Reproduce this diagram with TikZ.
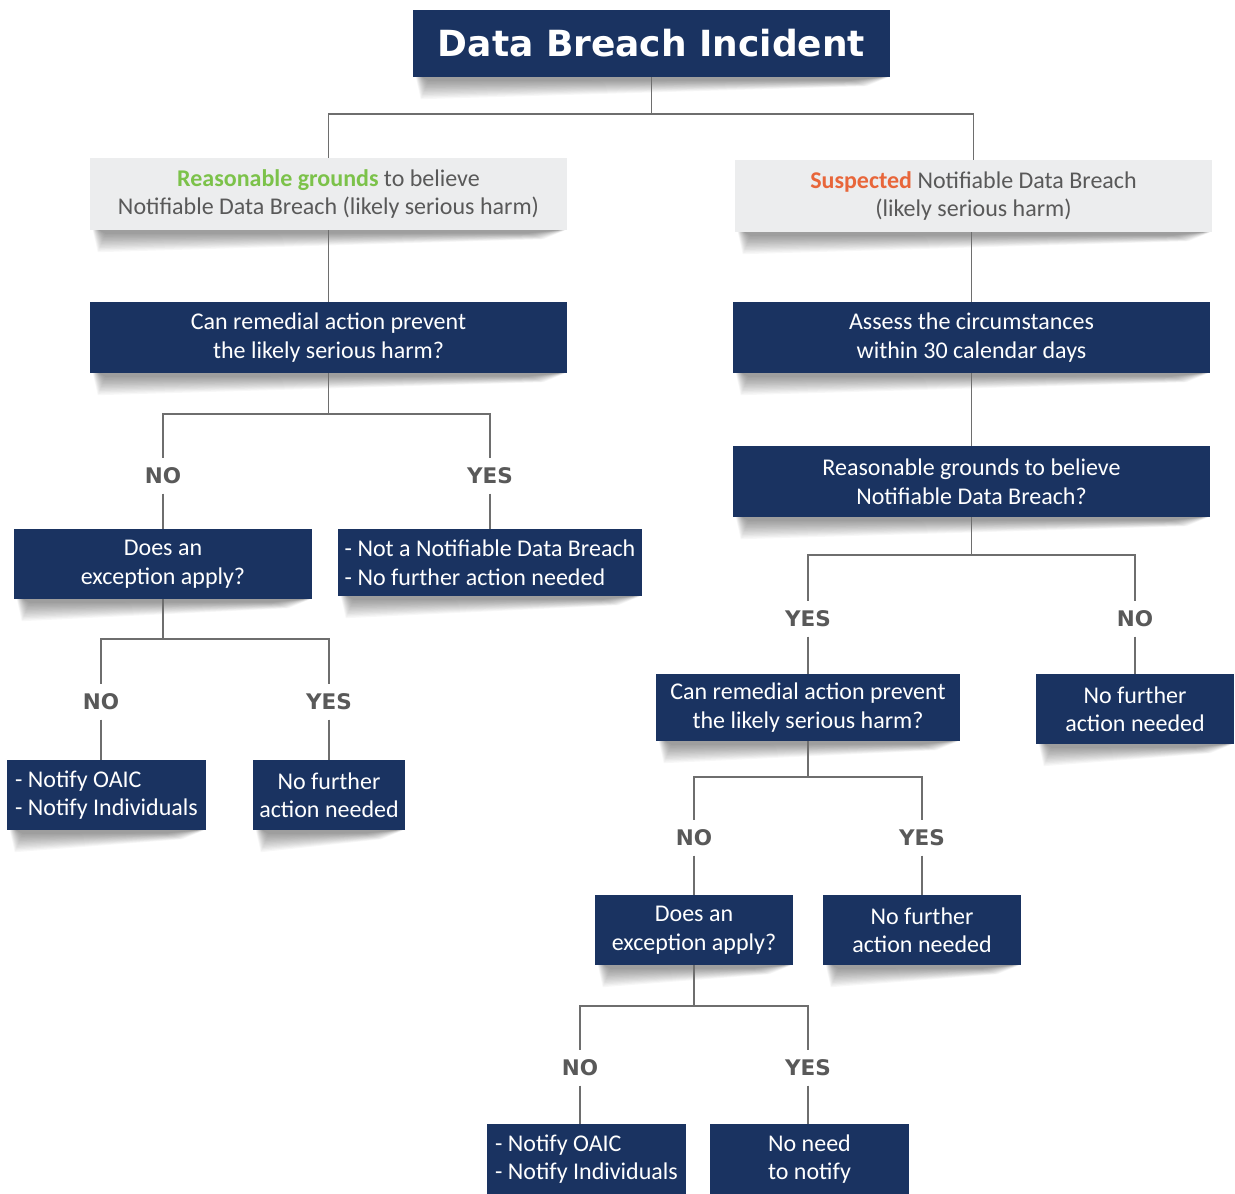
\documentclass[tikz,border=0pt]{standalone}
\usepackage{fontspec}
\setmainfont{Carlito}
\newfontfamily\lblfont{DejaVu Sans}
\definecolor{navy}{HTML}{1A3361}
\definecolor{grayfill}{HTML}{ECEDEE}
\definecolor{graytext}{HTML}{595959}
\definecolor{linegray}{HTML}{6E6E6E}
\definecolor{greentxt}{HTML}{7CC24A}
\definecolor{orangetxt}{HTML}{E8663A}
\tikzset{
  navybox/.style={fill=navy, text=white, inner sep=0pt, align=center, font=\fontsize{24}{28.5}\selectfont},
  graybox/.style={fill=grayfill, text=graytext, inner sep=0pt, align=center, font=\fontsize{24}{28.5}\selectfont},
  titlebox/.style={fill=navy, text=white, inner sep=0pt, text height=26pt, text depth=0pt, font=\lblfont\fontsize{36}{40}\selectfont\bfseries},
  lbl/.style={text=graytext, font=\lblfont\fontsize{21.5}{24}\selectfont\bfseries, text height=15.7pt, text depth=0pt, inner xsep=2pt, inner ysep=9.5pt},
  conn/.style={draw=linegray, line width=1.8pt}
}
\newcommand\bxshadow[1]{%
  \foreach \k in {0,...,13}{%
    \fill[black, opacity=0.03]
      ([xshift={(3+0.5*\k)*1pt}]#1.south west) --
      ([xshift={(8+0.6*\k)*1pt}, yshift={-(22-1.4*\k)*1pt}]#1.south west) --
      ([xshift={-(24+1.2*\k)*1pt}, yshift={-(9-0.45*\k)*1pt}]#1.south east) --
      ([xshift={-(2+0.5*\k)*1pt}]#1.south east) -- cycle;
  }%
}
\begin{document}
\begin{tikzpicture}[x=1pt,y=-1pt]
\useasboundingbox (0,0) rectangle (1235,1194);
\fill[white] (0,0) rectangle (1235,1194);
% nodes
\node[titlebox, minimum width=477pt, minimum height=67pt] (title) at (651.5,43.5) {Data Breach Incident};
\node[graybox, minimum width=477pt, minimum height=72pt] (lg) at (328.5,194) {\textcolor{greentxt}{\bfseries Reasonable grounds} to believe\\Notifiable Data Breach (likely serious harm)};
\node[graybox, minimum width=477pt, minimum height=72pt] (rg) at (973.5,196) {\textcolor{orangetxt}{\bfseries Suspected} Notifiable Data Breach\\(likely serious harm)};
\node[navybox, minimum width=477pt, minimum height=71pt] (lq1) at (328.5,337.5) {Can remedial action prevent\\the likely serious harm?};
\node[navybox, minimum width=477pt, minimum height=71pt] (ra1) at (971.5,337.5) {Assess the circumstances\\within 30 calendar days};
\node[navybox, minimum width=477pt, minimum height=71pt] (rq1) at (971.5,481.5) {Reasonable grounds to believe\\Notifiable Data Breach?};
% left branch
\node[lbl] (lno1) at (163,476) {NO};
\node[lbl] (lyes1) at (490,476) {YES};
\node[navybox, minimum width=298pt, minimum height=70pt] (lex) at (163,564) {Does an\\exception apply?};
\node[navybox, align=left, minimum width=304pt, minimum height=67pt] (lnot) at (490,562.5) {- Not a Notifiable Data Breach\\- No further action needed};
\node[lbl] (lno2) at (101,702) {NO};
\node[lbl] (lyes2) at (329,702) {YES};
\node[navybox, align=left, minimum width=199pt, minimum height=70pt] (lnotify) at (106.5,795) {- Notify OAIC\\- Notify Individuals};
\node[navybox, minimum width=152pt, minimum height=70pt] (lnofur) at (329,795) {No further\\action needed};
% right branch
\node[lbl] (ryes1) at (808,619) {YES};
\node[lbl] (rno1) at (1135,619) {NO};
\node[navybox, minimum width=304pt, minimum height=67pt] (rrem) at (808,707.5) {Can remedial action prevent\\the likely serious harm?};
\node[navybox, minimum width=198pt, minimum height=70pt] (rnofur1) at (1135,709) {No further\\action needed};
\node[lbl] (rno2) at (694,838) {NO};
\node[lbl] (ryes2) at (922,838) {YES};
\node[navybox, minimum width=198pt, minimum height=70pt] (rex) at (694,930) {Does an\\exception apply?};
\node[navybox, minimum width=198pt, minimum height=70pt] (rnofur2) at (922,930) {No further\\action needed};
\node[lbl] (rno3) at (580,1068) {NO};
\node[lbl] (ryes3) at (808,1068) {YES};
\node[navybox, align=left, minimum width=199pt, minimum height=70pt] (rnotify) at (586.5,1159) {- Notify OAIC\\- Notify Individuals};
\node[navybox, minimum width=199pt, minimum height=70pt] (rnoneed) at (809.5,1159) {No need\\to notify};
% shadows
\foreach \b in {title,lg,rg,lq1,ra1,rq1,lex,lnot,lnotify,lnofur,rrem,rnofur1,rex,rnofur2}{\bxshadow{\b}}
% connectors
\draw[conn] (title.south) -- ++(0,37) coordinate (tj);
\draw[conn] (tj) -| (lg.north);
\draw[conn] (tj) -| (rg.north);
\draw[conn] (lg.south) -- (lq1.north);
\draw[conn] (rg.south -| ra1.north) -- (ra1.north);
\draw[conn] (ra1.south) -- (rq1.north);
% left
\draw[conn] (lq1.south) -- ++(0,41) coordinate (lj1);
\draw[conn] (lj1) -| (lno1.north);
\draw[conn] (lj1) -| (lyes1.north);
\draw[conn] (lno1.south) -- (lex.north);
\draw[conn] (lyes1.south) -- (lnot.north);
\draw[conn] (lex.south) -- ++(0,40) coordinate (lj2);
\draw[conn] (lj2) -| (lno2.north);
\draw[conn] (lj2) -| (lyes2.north);
\draw[conn] (lno2.south) -- (lno2.south |- lnotify.north);
\draw[conn] (lyes2.south) -- (lnofur.north);
% right
\draw[conn] (rq1.south) -- ++(0,38) coordinate (rj1);
\draw[conn] (rj1) -| (ryes1.north);
\draw[conn] (rj1) -| (rno1.north);
\draw[conn] (ryes1.south) -- (rrem.north);
\draw[conn] (rno1.south) -- (rnofur1.north);
\draw[conn] (rrem.south) -- ++(0,36) coordinate (rj2);
\draw[conn] (rj2) -| (rno2.north);
\draw[conn] (rj2) -| (ryes2.north);
\draw[conn] (rno2.south) -- (rex.north);
\draw[conn] (ryes2.south) -- (rnofur2.north);
\draw[conn] (rex.south) -- ++(0,41) coordinate (rj3);
\draw[conn] (rj3) -| (rno3.north);
\draw[conn] (rj3) -| (ryes3.north);
\draw[conn] (rno3.south) -- (rno3.south |- rnotify.north);
\draw[conn] (ryes3.south) -- (ryes3.south |- rnoneed.north);
\end{tikzpicture}
\end{document}
